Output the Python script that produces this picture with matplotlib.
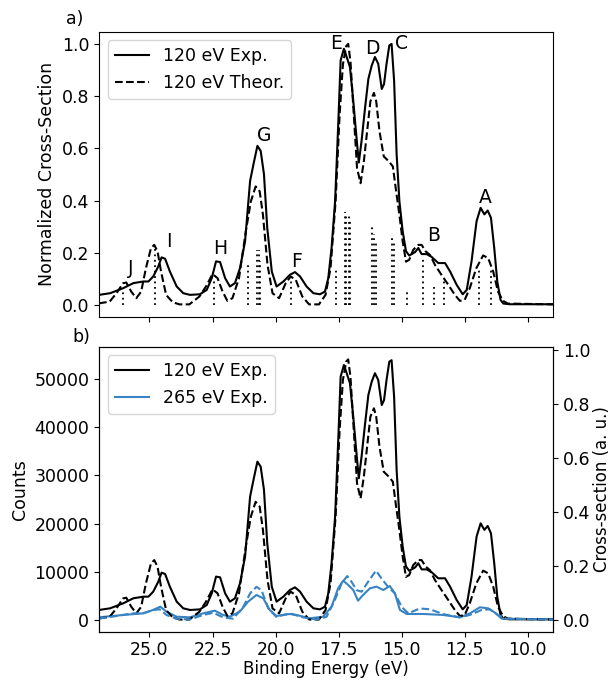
import numpy as np
import matplotlib
matplotlib.use("Agg")
import matplotlib.pyplot as plt

# ---------------- data ----------------
# 120 eV experiment (counts)
e_exp120 = [27.0, 26.56, 26.04, 25.64, 25.24, 25.04, 24.85, 24.65, 24.52, 24.38, 24.19, 23.92, 23.66,
            23.39, 23.0, 22.73, 22.53, 22.36, 22.2, 22.0, 21.81, 21.61, 21.41, 21.21, 21.01, 20.85,
            20.72, 20.59, 20.46, 20.33, 20.15, 19.96, 19.69, 19.43, 19.23, 19.03, 18.77, 18.5, 18.24,
            18.04, 17.91, 17.78, 17.64, 17.51, 17.42, 17.29, 17.18, 17.05, 16.92, 16.78, 16.7, 16.59,
            16.45, 16.32, 16.19, 16.06, 15.93, 15.79, 15.7, 15.6, 15.49, 15.4, 15.3, 15.2, 15.09,
            14.96, 14.83, 14.7, 14.47, 14.34, 14.21, 14.01, 13.81, 13.55, 13.28, 13.08, 12.82, 12.58,
            12.42, 12.23, 12.03, 11.87, 11.72, 11.59, 11.46, 11.33, 11.21, 11.08, 10.97, 10.71, 9.0]
c_exp120 = [2075, 2420, 3460, 4500, 4840, 4840, 5880, 7950, 9820, 9540, 6900, 3800, 2420,
            2075, 2200, 3100, 5530, 9000, 8850, 5530, 3800, 4500, 7600, 13100, 25600, 29700,
            32850, 31800, 27000, 15900, 6900, 3800, 4840, 6220, 6780, 5880, 3800, 2420, 2200,
            2770, 5530, 11760, 21400, 38000, 50500, 52900, 51200, 49100, 42200, 33900, 29400, 33900,
            40800, 46700, 49400, 51200, 49800, 44600, 45600, 49800, 53600, 53900, 46300, 31100, 21400,
            15200, 11100, 10200, 10900, 11760, 10500, 10500, 9900, 8650, 8650, 6900, 4150, 2200,
            3100, 9000, 17300, 20050, 18700, 19500, 18000, 11760, 4840, 1040, 280, 140, 140]

# 120 eV theory (cross-section, a. u.)
e_th120 = [27.0, 26.58, 26.31, 26.05, 25.92, 25.72, 25.52, 25.33, 25.14, 24.94, 24.81, 24.68, 24.54,
           24.34, 24.08, 23.81, 23.42, 23.02, 22.76, 22.5, 22.3, 22.1, 21.91, 21.71, 21.45, 21.18,
           20.98, 20.79, 20.63, 20.5, 20.32, 20.12, 19.86, 19.6, 19.4, 19.2, 18.94, 18.67, 18.28,
           18.02, 17.82, 17.62, 17.46, 17.33, 17.2, 17.12, 17.03, 16.9, 16.77, 16.63, 16.5, 16.37,
           16.24, 16.1, 16.01, 15.88, 15.71, 15.51, 15.35, 15.22, 15.09, 14.96, 14.83, 14.7, 14.54,
           14.34, 14.21, 14.05, 13.88, 13.68, 13.42, 13.15, 12.89, 12.69, 12.5, 12.3, 12.04, 11.77,
           11.57, 11.37, 11.18, 10.98, 10.79, 9.0]
v_th120 = [0.006, 0.012, 0.043, 0.08, 0.083, 0.049, 0.025, 0.049, 0.136, 0.21, 0.222, 0.198, 0.123,
           0.037, 0.01, 0.002, 0.002, 0.031, 0.068, 0.114, 0.099, 0.049, 0.015, 0.025, 0.099, 0.272,
           0.383, 0.438, 0.42, 0.333, 0.148, 0.043, 0.025, 0.08, 0.105, 0.093, 0.031, 0.002, 0.002,
           0.037, 0.136, 0.383, 0.704, 0.889, 0.957, 0.965, 0.9, 0.704, 0.506, 0.45, 0.531, 0.642,
           0.753, 0.784, 0.753, 0.642, 0.549, 0.531, 0.512, 0.42, 0.333, 0.235, 0.16, 0.167, 0.204,
           0.222, 0.222, 0.198, 0.185, 0.148, 0.111, 0.074, 0.037, 0.015, 0.019, 0.062, 0.136, 0.183,
           0.173, 0.123, 0.049, 0.015, 0.005, 0.002]

# 265 eV experiment (counts)
e_exp265 = [27.0, 26.05, 25.25, 24.86, 24.57, 24.33, 23.93, 23.4, 22.87, 22.41, 22.08, 21.81, 21.42,
            21.09, 20.76, 20.49, 20.23, 19.97, 19.44, 19.17, 18.64, 18.11, 17.78, 17.52, 17.32, 17.12,
            16.92, 16.73, 16.53, 16.26, 16.0, 15.73, 15.47, 15.27, 15.07, 14.8, 14.14, 13.35, 12.69,
            12.29, 11.9, 11.57, 11.3, 11.04, 9.0]
c_exp265 = [550, 1040, 1380, 2075, 2770, 1730, 690, 550, 1380, 1940, 1040, 690, 1730,
            3800, 5190, 4500, 2075, 830, 1245, 1040, 350, 690, 2770, 6570, 8160, 7260,
            6220, 4010, 5190, 6570, 6920, 6220, 7050, 5530, 2075, 1245, 1245, 1040, 550,
            1380, 2630, 2420, 1520, 280, 140]

# 265 eV theory (cross-section, a. u.)
e_th265 = [27.0, 26.31, 25.65, 25.25, 24.86, 24.6, 24.33, 23.93, 23.4, 22.87, 22.47, 22.08, 21.68,
           21.28, 21.01, 20.76, 20.56, 20.29, 19.97, 19.44, 18.91, 18.38, 17.98, 17.65, 17.38, 17.16,
           16.99, 16.79, 16.59, 16.33, 16.02, 15.8, 15.54, 15.27, 15.0, 14.74, 14.28, 13.88, 13.35,
           12.69, 12.3, 11.84, 11.51, 11.18, 10.85, 9.0]
v_th265 = [0.006, 0.015, 0.025, 0.025, 0.037, 0.04, 0.019, 0.005, 0.002, 0.019, 0.027, 0.01, 0.005,
           0.049, 0.099, 0.123, 0.111, 0.043, 0.012, 0.025, 0.01, 0.002, 0.012, 0.074, 0.136, 0.163,
           0.142, 0.111, 0.105, 0.142, 0.183, 0.154, 0.123, 0.099, 0.049, 0.025, 0.043, 0.04, 0.022,
           0.01, 0.019, 0.037, 0.04, 0.019, 0.005, 0.002]

# theoretical stick spectrum (normalized)
stick_e = [26.03, 24.78, 22.46, 21.08, 20.72, 20.66, 20.6, 19.37, 17.6, 17.24, 17.19, 17.08, 17.03,
           16.17, 16.11, 16.01, 15.38, 15.31, 14.8, 14.17, 13.73, 13.32, 11.93, 11.47]
stick_h = [0.057, 0.223, 0.096, 0.153, 0.21, 0.21, 0.17, 0.105, 0.134, 0.357, 0.35, 0.341, 0.33,
           0.298, 0.27, 0.236, 0.255, 0.236, 0.051, 0.185, 0.07, 0.102, 0.134, 0.134]

peak_labels = ["A", "B", "C", "D", "E", "F", "G", "H", "I", "J"]
peak_x = [11.69, 13.72, 15.0, 16.18, 17.6, 19.16, 20.46, 22.2, 24.25, 25.73]
peak_y = [0.412, 0.266, 1.003, 0.983, 1.003, 0.166, 0.651, 0.217, 0.243, 0.141]

# ---------------- figure ----------------
FS = 12.5
plt.rcParams['font.family'] = ['DejaVu Sans']
plt.rcParams['font.size'] = FS
blue = '#3783c4'

fig = plt.figure(figsize=(6.12, 6.81), dpi=100)
ax1 = fig.add_axes([0.1618, 0.535, 0.7418, 0.4185])
ax2 = fig.add_axes([0.1618, 0.0724, 0.7418, 0.4185], sharex=ax1)

c120 = np.array(c_exp120, dtype=float)
t120 = np.array(v_th120, dtype=float)

# top panel
ax1.plot(e_exp120, c120 / c120.max(), color='k', lw=1.5, label='120 eV Exp.')
ax1.plot(e_th120, t120 / t120.max(), color='k', lw=1.5, ls='--', label='120 eV Theor.')
ax1.vlines(stick_e, 0, stick_h, colors='k', linestyles=(0, (1, 2)), lw=1.3)
for lab, x, y in zip(peak_labels, peak_x, peak_y):
    ax1.text(x, y, lab, ha='center', va='center', fontsize=13.5)
ax1.set_ylabel('Normalized Cross-Section')
ax1.set_ylim(-0.045, 1.047)
ax1.set_yticks([0.0, 0.2, 0.4, 0.6, 0.8, 1.0])
ax1.tick_params(labelbottom=False)
ax1.legend(loc='upper left', fontsize=FS)

# bottom panel
ax2.plot(e_exp120, c_exp120, color='k', lw=1.5, label='120 eV Exp.')
ax2.plot(e_exp265, c_exp265, color=blue, lw=1.5, label='265 eV Exp.')
ax2.set_ylim(-2430, 56700)
ax2.set_yticks([0, 10000, 20000, 30000, 40000, 50000])
ax2.set_ylabel('Counts')
ax2.set_xlabel('Binding Energy (eV)', labelpad=0.5, fontsize=12)
ax2.legend(loc='upper left', fontsize=FS)

ax3 = ax2.twinx()
ax3.plot(e_th120, v_th120, color='k', lw=1.5, ls='--')
ax3.plot(e_th265, v_th265, color=blue, lw=1.5, ls='--')
ax3.set_ylim(-0.043, 1.012)
ax3.set_yticks([0.0, 0.2, 0.4, 0.6, 0.8, 1.0])
ax3.set_ylabel('Cross-section (a. u.)', labelpad=2, fontsize=12)

ax1.set_xlim(27, 9)
ax1.set_xticks([25.0, 22.5, 20.0, 17.5, 15.0, 12.5, 10.0])

fig.text(75 / 612, 1 - 19 / 681, 'a)', ha='center', va='center', fontsize=FS)
fig.text(81 / 612, 1 - 337 / 681, 'b)', ha='center', va='center', fontsize=FS)

fig.savefig('out.png', dpi=100)
